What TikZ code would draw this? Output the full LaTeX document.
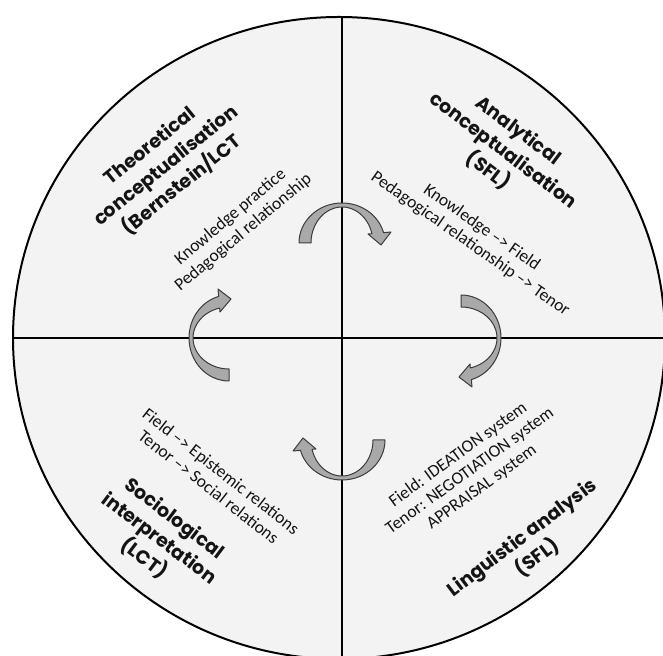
\documentclass[tikz,border=0pt]{standalone}
\usepackage{fontspec}
\setmainfont{Carlito}
\newfontfamily\headfont{Poppins}
\usetikzlibrary{positioning}
\definecolor{ink}{HTML}{141414}
\definecolor{disc}{HTML}{F3F3F3}
\definecolor{turnfill}{HTML}{A9A9A9}
\definecolor{turnline}{HTML}{3C3C3C}

\begin{document}
\begin{tikzpicture}[x=1pt,y=1pt,text=ink,
  head/.style={align=center,font=\headfont\bfseries\fontsize{19}{25}\selectfont},
  body/.style={align=center,font=\fontsize{17.5}{20}\selectfont},
  turn/.style={fill=turnfill,draw=turnline,line width=1pt,line join=round}]
  \useasboundingbox (0,0) rectangle (663,655);
  \fill[white] (0,0) rectangle (663,655);

  % disc and quadrants
  \begin{scope}
    \clip (0,0) rectangle (663,655);
    \fill[disc] (339,317) ellipse [x radius=326,y radius=321];
    \begin{scope}
      \clip (339,317) ellipse [x radius=326,y radius=321];
      \draw[line width=2pt] (-10,317) -- (700,317);
      \draw[line width=2pt] (342,-10) -- (342,700);
    \end{scope}
    \draw[line width=2pt] (339,317) ellipse [x radius=326,y radius=321];
  \end{scope}

  % curved arrows of the cycle
  \foreach \cx/\cy/\rot in {342/412/0, 461/317/-90, 342/215/-180, 229/317/-270}
    \path[turn,shift={(\cx,\cy)},rotate=\rot]
      (-31,0) -- (-43,0) arc[start angle=180,end angle=15,x radius=43,y radius=40]
      -- (49,11) -- (39,-2) -- (26,9)
      -- (15:31 and 36) arc[start angle=15,end angle=180,x radius=31,y radius=36] -- cycle;

  % quadrant titles
  \node[head,rotate=39] (theory) at (166,489) {Theoretical\\conceptualisation\\(Bernstein/LCT};
  \node[head,rotate=-37] (analytic) at (503,504) {Analytical\\conceptualisation\\(SFL)};
  \node[head,rotate=-37] (socio) at (159,116) {Sociological\\interpretation\\(LCT)};
  \node[head,rotate=37] (ling) at (530,107) {Linguistic analysis\\(SFL)};

  % quadrant contents
  \node[body,rotate=40] (practice) at (237,430) {Knowledge practice\\Pedagogical relationship};
  \node[body,rotate=-35] (register) at (476,419) {Knowledge --> Field\\Pedagogical relationship --> Tenor};
  \node[body,rotate=-38] (relations) at (215,176) {Field --> Epistemic relations\\Tenor --> Social relations};
  \node[body,rotate=36] (systems) at (470,184) {Field: IDEATION system\\Tenor: NEGOTIATION system\\APPRAISAL system};
\end{tikzpicture}
\end{document}
